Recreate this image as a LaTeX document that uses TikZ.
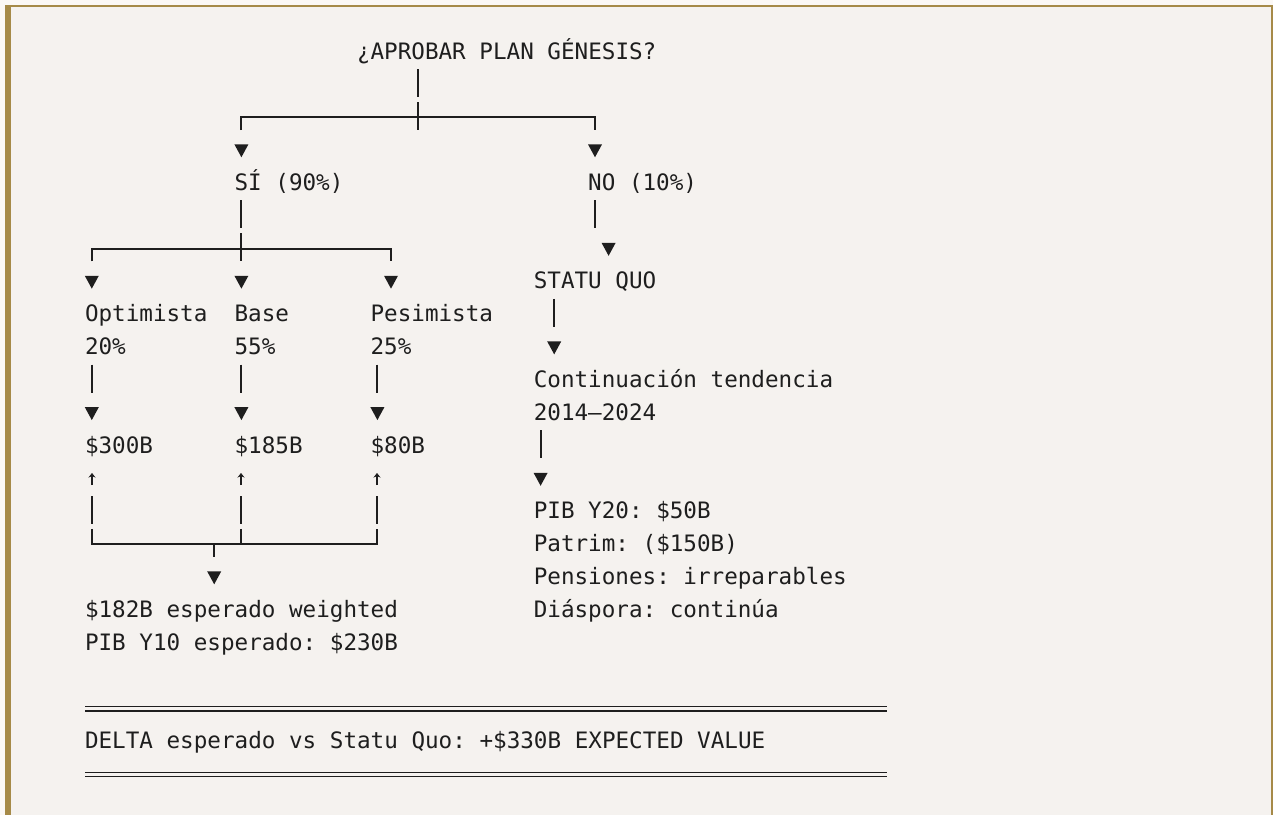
\documentclass[tikz,border=0pt]{standalone}
\usepackage{fontspec}
\setmonofont{DejaVu Sans Mono}
\usetikzlibrary{arrows.meta}
\definecolor{ink}{HTML}{1E1E1E}
\definecolor{bgpage}{HTML}{FBF8F5}
\definecolor{bgbox}{HTML}{F5F2EF}
\definecolor{gold}{HTML}{A68A48}
\tikzset{
  txt/.style={anchor=base west, inner sep=0pt, outer sep=0pt,
    font=\ttfamily\fontsize{22.6}{27}\selectfont, text=ink},
  ln/.style={draw=ink, line width=2pt},
  tridown/.pic={\fill[ink] (-7,-13.2) -- (7,-13.2) -- (0,-0.3) -- cycle;},
  uparr/.style={draw=ink, line width=1.4pt, -{Stealth[length=4.5pt,width=7pt]}},
  dbl/.style={draw=ink, line width=1.4pt},
}
\begin{document}
\begin{tikzpicture}[x=1pt,y=-1pt]
% page and frame
\fill[bgpage] (0,0) rectangle (1273,815);
\useasboundingbox (0,0) rectangle (1273,815);
\fill[bgbox] (5,5) rectangle (1273,815);
\fill[gold] (5,5) rectangle (11,815);
\fill[gold] (5,5) rectangle (1273,7);
\fill[gold] (1271,5) rectangle (1273,815);

% ---- texts ----
\node[txt] (title) at (357,59) {¿APROBAR PLAN GÉNESIS?};
\node[txt] (si) at (234.6,190.4) {SÍ (90\%)};
\node[txt] (no) at (588.2,190.4) {NO (10\%)};
\node[txt] (statu) at (533.8,288.95) {STATU QUO};
\node[txt] (opt) at (85,321.8) {Optimista};
\node[txt] (base) at (234.6,321.8) {Base};
\node[txt] (pes) at (370.6,321.8) {Pesimista};
\node[txt] (p20) at (85,354.65) {20\%};
\node[txt] (p55) at (234.6,354.65) {55\%};
\node[txt] (p25) at (370.6,354.65) {25\%};
\node[txt] (cont) at (533.8,387.5) {Continuación tendencia};
\node[txt] (years) at (533.8,420.35) {2014–2024};
\node[txt] (v300) at (85,453.2) {\$300B};
\node[txt] (v185) at (234.6,453.2) {\$185B};
\node[txt] (v80) at (370.6,453.2) {\$80B};
\node[txt] (pib20) at (533.8,518.9) {PIB Y20: \$50B};
\node[txt] (patrim) at (533.8,551.75) {Patrim: (\$150B)};
\node[txt] (pens) at (533.8,584.6) {Pensiones: irreparables};
\node[txt] (ev) at (85,617.45) {\$182B esperado weighted};
\node[txt] (diasp) at (533.8,617.45) {Diáspora: continúa};
\node[txt] (pib10) at (85,650.3) {PIB Y10 esperado: \$230B};
\node[txt] (delta) at (85,748.85) {DELTA esperado vs Statu Quo: +\$330B EXPECTED VALUE};

% ---- first split ----
\draw[ln] (418,69) -- (418,97);
\draw[ln] (418,102) -- (418,130);
\draw[ln] (241,130) -- (241,117) -- (595,117) -- (595,130);
\pic at (241.4,157.55) {tridown};
\pic at (595,157.55) {tridown};

% ---- SI branch ----
\draw[ln] (241,200.4) -- (241,228.4);
\draw[ln] (241,233.25) -- (241,261.25);
\draw[ln] (92,261.25) -- (92,249) -- (391,249) -- (391,261.25);
\pic at (91.8,288.95) {tridown};
\pic at (241.4,288.95) {tridown};
\pic at (391,288.95) {tridown};
\foreach \x/\px in {92/91.8,241/241.4,377/377.4}{
  \draw[ln] (\x,364.65) -- (\x,392.65);
  \pic at (\px,420.35) {tridown};
  \draw[uparr] (\x,485) -- (\x,473);
  \draw[ln] (\x,496.05) -- (\x,524.05);
}
\draw[ln] (92,528.9) -- (92,544) -- (377,544) -- (377,528.9);
\draw[ln] (241,528.9) -- (241,544);
\draw[ln] (214,544) -- (214,556.9);
\pic at (214.2,584.6) {tridown};

% ---- NO branch ----
\draw[ln] (595,200.4) -- (595,228.4);
\pic at (608.6,256.1) {tridown};
\draw[ln] (554,298.95) -- (554,326.95);
\pic at (554.2,354.65) {tridown};
\draw[ln] (541,430.35) -- (541,458.35);
\pic at (540.6,486.05) {tridown};

% ---- double rules ----
\draw[dbl] (85,706.6) -- (887.4,706.6);
\draw[dbl] (85,711) -- (887.4,711);
\draw[dbl] (85,772.3) -- (887.4,772.3);
\draw[dbl] (85,776.7) -- (887.4,776.7);
\end{tikzpicture}
\end{document}
